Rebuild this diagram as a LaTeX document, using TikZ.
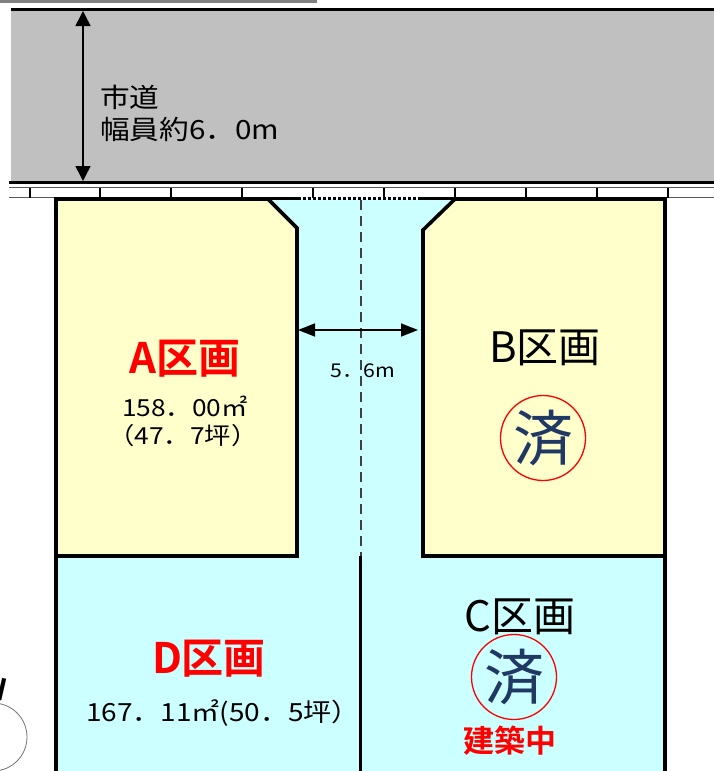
\documentclass[tikz,border=0pt]{standalone}
\usepackage{fontspec}
\setmainfont{Noto Sans CJK JP}
\newfontfamily\jpb{Noto Sans CJK JP Bold}
\newfontfamily\jpw[FakeStretch=1.12]{Noto Sans CJK JP}
\usetikzlibrary{arrows.meta}
\definecolor{roadgray}{HTML}{C0C0C0}
\definecolor{lotyellow}{HTML}{FFFFCC}
\definecolor{lotcyan}{HTML}{CCFFFF}
\definecolor{stampblue}{HTML}{1F3864}
\tikzset{
  lotline/.style={line width=3.6pt,line join=miter},
  dim/.style={line width=1.6pt,{Triangle[length=15pt,width=15pt]}-{Triangle[length=15pt,width=15pt]}},
  walk/.style={line width=1pt,draw=black!65},
  tick/.style={line width=1.2pt},
  txt/.style={anchor=west,inner sep=0pt,font=\jpw\fontsize{26.5}{26.5}\selectfont},
  small/.style={inner sep=0pt,font=\jpw\fontsize{23.5}{23.5}\selectfont},
  lab/.style={inner sep=0pt,font=\fontsize{42}{42}\selectfont},
  redlab/.style={inner sep=0pt,text=red,font=\jpb\fontsize{42}{42}\selectfont},
  stamp/.style={circle,draw=red,line width=1.3pt,minimum size=85pt,inner sep=0pt,text=stampblue,font=\fontsize{60}{60}\selectfont},
}
\begin{document}
\begin{tikzpicture}[x=1pt,y=-1pt]
\useasboundingbox (0,0) rectangle (714,771);
\fill[white] (0,0) rectangle (714,771);
\fill[black!50] (0,0) rectangle (317,3);
% road
\fill[roadgray] (11,9) rectangle (714,182);
\coordinate (roadTL) at (11,9.5); \coordinate (roadTR) at (714,9.5);
\coordinate (roadBL) at (9,182); \coordinate (roadBR) at (714,182);
\draw[line width=3pt] (roadTL) -- (roadTR);
\draw[line width=3pt] (roadBL) -- (roadBR);
% sidewalk
\draw[walk] (9,187.5) -- (714,187.5);
\draw[walk] (9,197) -- (56,197);
\draw[walk] (665,197) -- (714,197);
\foreach \x in {30,100,171,242,313,384,455,526,597,668} \draw[tick] (\x,187.5) -- (\x,198);
% lots
\fill[lotcyan] (56,199) rectangle (665,771);
\fill[lotyellow] (56,199) -- (268,199) -- (297,228) -- (297,556) -- (56,556) -- cycle;
\fill[lotyellow] (665,199) -- (455,199) -- (423,230) -- (423,556) -- (665,556) -- cycle;
\draw[lotline] (56,771) -- (56,199) -- (268,199) -- (297,228) -- (297,556) -- (56,556);
\draw[lotline] (665,771) -- (665,199) -- (455,199) -- (423,230) -- (423,556) -- (665,556);
\draw[line width=3pt] (268,198.5) -- (298,198.5);
\draw[line width=3pt] (420,198.5) -- (455,198.5);
\draw[line width=2.4pt,dash pattern=on 2.5pt off 2.5pt] (298,198.5) -- (420,198.5);
\draw[line width=1.2pt,dash pattern=on 10pt off 6pt,draw=black!75] (361,200) -- (361,556);
\draw[line width=3pt] (360,556) -- (360,771);
% dimensions
\coordinate (roadArrowTop) at (83,11); \coordinate (roadArrowBot) at (83,181);
\draw[dim] (roadArrowTop) -- (roadArrowBot);
\coordinate (gapL) at (298,330); \coordinate (gapR) at (418,330);
\draw[line width=1.6pt,{Triangle[length=17pt,width=13pt]}-{Triangle[length=17pt,width=13pt]}] (gapL) -- (gapR);
% text
\node[txt] (road1) at (100,97) {市道};
\node[txt] (road2) at (100,129) {幅員約6．0m};
\node[small,font=\jpw\fontsize{19}{19}\selectfont] (gap) at (363,371) {5．6m};
\node[redlab] (A) at (185,359) {A区画};
\node[small] (Aarea) at (185,406) {158．00㎡};
\node[small] (Atsubo) at (183,436) {（47．7坪）};
\node[lab] (B) at (545,348) {B区画};
\node[stamp] (Bs) at (543,438) {済};
\node[lab] (C) at (520,617) {C区画};
\node[stamp] (Cs) at (514,677) {済};
\node[inner sep=0pt,text=red,font=\jpb\fontsize{31}{31}\selectfont] (Cb) at (510,741) {建築中};
\node[redlab] (D) at (209,659) {D区画};
\node[small,font=\jpw\fontsize{25}{25}\selectfont] (Darea) at (215,713) {\hspace{16pt}167．11㎡(50．5坪）};
% north mark
\draw[line width=.8pt,draw=black!55] (-7,737) circle (34);
\node[inner sep=0pt,rotate=-13,font=\jpb\fontsize{30}{30}\selectfont] (N) at (-4,688) {N};
\end{tikzpicture}
\end{document}
